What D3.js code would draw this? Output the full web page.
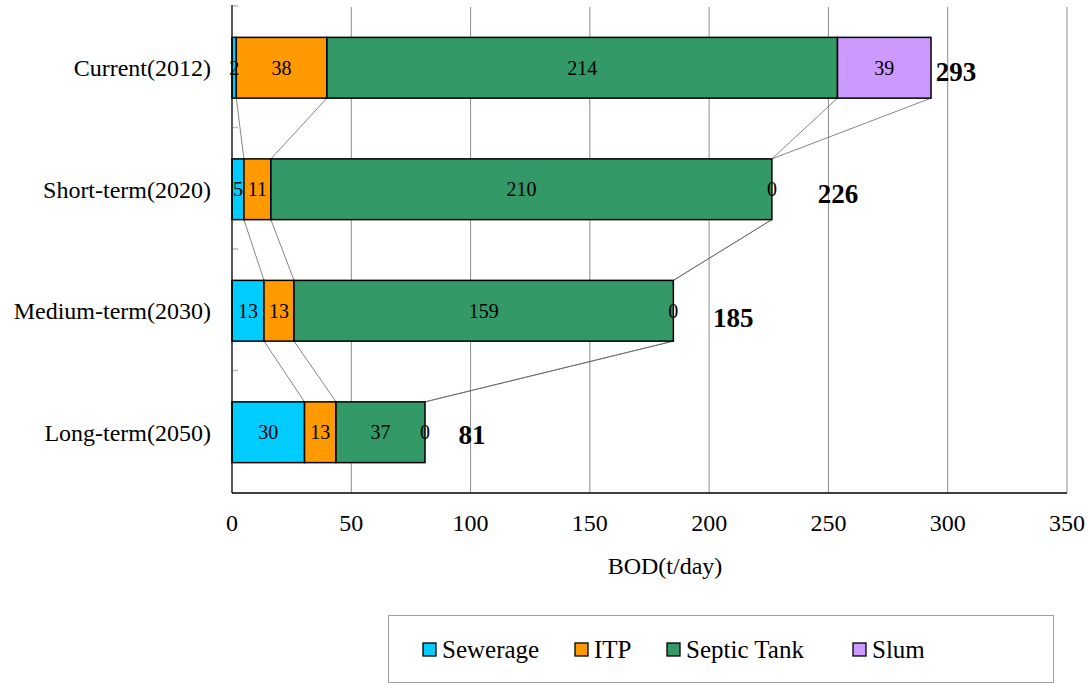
<!DOCTYPE html>
<html>
<head>
<meta charset="utf-8">
<script src="https://cdn.jsdelivr.net/npm/d3@7/dist/d3.min.js"></script>
<style>
  body { margin: 0; background: #fff; }
  svg text { font-family: "Liberation Serif", "DejaVu Serif", serif; }
</style>
</head>
<body>
<svg id="chart" width="1088" height="684"></svg>
<script>
// ==================== DATA ====================
const categories = ['Current(2012)', 'Short-term(2020)', 'Medium-term(2030)', 'Long-term(2050)'];
const seriesNames = ['Sewerage', 'ITP', 'Septic Tank', 'Slum'];
const sewerage = [1.8, 5.0, 13.4, 30.4];
const itp = [38.0, 11.3, 12.6, 13.2];
const septicTank = [214.0, 210.0, 159.0, 37.3];
const slum = [39.2, 0, 0, 0];
const xTicks = [0, 50, 100, 150, 200, 250, 300, 350];
const colors = ['#00CCFF', '#FF9900', '#339966', '#CC99FF'];

// total label nudges (px): hand placed in the original
const totalDx = [25, 66, 60, 47];
const totalDy = [4, 4, 7, 2];

const SERIF = '"Liberation Serif", "DejaVu Serif", serif';

const seriesValues = [sewerage, itp, septicTank, slum];
const rows = categories.map((c, i) => {
  const r = { category: c };
  seriesNames.forEach((s, j) => { r[s] = seriesValues[j][i]; });
  return r;
});

const svg = d3.select('#chart');
const margin = { top: 7, right: 21, bottom: 191, left: 232 };
const width = 1088, height = 684;

const x = d3.scaleLinear().domain([0, 350]).range([margin.left, width - margin.right]);
const y = d3.scaleBand().domain(categories)
  .range([margin.top, height - margin.bottom])
  .paddingInner(0.5).paddingOuter(0.25);

const stacked = d3.stack().keys(seriesNames)(rows);

// ==================== GRID ====================
svg.append('g')
  .selectAll('line')
  .data(xTicks.filter(d => d > 0))
  .join('line')
  .attr('x1', d => x(d)).attr('x2', d => x(d))
  .attr('y1', margin.top).attr('y2', height - margin.bottom)
  .attr('stroke', '#8c8c8c').attr('stroke-width', 1);

// ==================== CONNECTOR LINES ====================
const conn = svg.append('g');
for (let i = 0; i < categories.length - 1; i++) {
  stacked.forEach(s => {
    conn.append('line')
      .attr('x1', x(s[i][1]))
      .attr('y1', y(categories[i]) + y.bandwidth())
      .attr('x2', x(s[i + 1][1]))
      .attr('y2', y(categories[i + 1]))
      .attr('stroke', '#666').attr('stroke-width', 0.8);
  });
}

// ==================== BARS ====================
svg.append('g')
  .selectAll('g')
  .data(stacked)
  .join('g')
  .attr('fill', (d, i) => colors[i])
  .selectAll('rect')
  .data(d => d.filter(p => p[1] - p[0] > 0))
  .join('rect')
  .attr('x', d => x(d[0]))
  .attr('y', d => y(d.data.category))
  .attr('width', d => x(d[1]) - x(d[0]))
  .attr('height', y.bandwidth())
  .attr('stroke', '#000')
  .attr('stroke-width', 1.5);

// segment labels, on top of every bar
svg.append('g')
  .selectAll('g')
  .data(stacked)
  .join('g')
  .selectAll('text')
  .data(d => d)
  .join('text')
  .attr('x', d => (x(d[0]) + x(d[1])) / 2)
  .attr('y', d => y(d.data.category) + y.bandwidth() / 2)
  .attr('dy', '0.35em')
  .attr('text-anchor', 'middle')
  .attr('fill', '#000')
  .attr('font-family', SERIF)
  .attr('font-size', 20)
  .text(d => d3.format('.0f')(d[1] - d[0]));

// totals
svg.append('g')
  .selectAll('text')
  .data(rows)
  .join('text')
  .attr('x', (d, i) => x(d3.sum(seriesNames, s => d[s])) + totalDx[i])
  .attr('y', (d, i) => y(d.category) + y.bandwidth() / 2 + totalDy[i])
  .attr('dy', '0.35em')
  .attr('text-anchor', 'middle')
  .attr('font-family', SERIF)
  .attr('font-size', 27)
  .attr('font-weight', 'bold')
  .text(d => d3.format('.0f')(d3.sum(seriesNames, s => d[s])));

// ==================== AXES ====================
const plotBottom = height - margin.bottom;
svg.append('line')
  .attr('x1', x(0)).attr('x2', x(350))
  .attr('y1', plotBottom).attr('y2', plotBottom)
  .attr('stroke', '#000').attr('stroke-width', 1.3);
svg.append('line')
  .attr('x1', x(0)).attr('x2', x(0))
  .attr('y1', margin.top - 2).attr('y2', plotBottom)
  .attr('stroke', '#000').attr('stroke-width', 1.3);

// small ticks at band boundaries
const step = y.step();
svg.append('g')
  .selectAll('line')
  .data(d3.range(categories.length))
  .join('line')
  .attr('x1', x(0) + 1).attr('x2', x(0) + 6)
  .attr('y1', i => margin.top + i * step - 1)
  .attr('y2', i => margin.top + i * step - 1)
  .attr('stroke', '#bbb').attr('stroke-width', 1.5);

svg.append('g')
  .selectAll('text')
  .data(xTicks)
  .join('text')
  .attr('x', d => x(d))
  .attr('y', plotBottom + 30)
  .attr('dy', '0.35em')
  .attr('text-anchor', 'middle')
  .attr('font-family', SERIF)
  .attr('font-size', 24)
  .text(d => d);

svg.append('g')
  .selectAll('text')
  .data(categories)
  .join('text')
  .attr('x', x(0) - 21)
  .attr('y', d => y(d) + y.bandwidth() / 2)
  .attr('dy', '0.35em')
  .attr('text-anchor', 'end')
  .attr('font-family', SERIF)
  .attr('font-size', 24)
  .text(d => d);

svg.append('text')
  .attr('x', 665)
  .attr('y', plotBottom + 73)
  .attr('dy', '0.35em')
  .attr('text-anchor', 'middle')
  .attr('font-family', SERIF)
  .attr('font-size', 24)
  .text('BOD(t/day)');

// ==================== LEGEND ====================
const legend = svg.append('g');
legend.append('rect')
  .attr('x', 388.5).attr('y', 615.5)
  .attr('width', 665).attr('height', 67)
  .attr('fill', '#fff').attr('stroke', '#a0a0a0').attr('stroke-width', 1);

const legendX = [423, 575, 667, 853];
const items = legend.selectAll('g.item')
  .data(seriesNames)
  .join('g')
  .attr('class', 'item')
  .attr('transform', (d, i) => `translate(${legendX[i]},649)`);
items.append('rect')
  .attr('x', 0).attr('y', -6)
  .attr('width', 13).attr('height', 13)
  .attr('fill', (d, i) => colors[i])
  .attr('stroke', '#000').attr('stroke-width', 1.3);
items.append('text')
  .attr('x', 19)
  .attr('dy', '0.35em')
  .attr('font-family', SERIF)
  .attr('font-size', 25)
  .text(d => d);
</script>
</body>
</html>
